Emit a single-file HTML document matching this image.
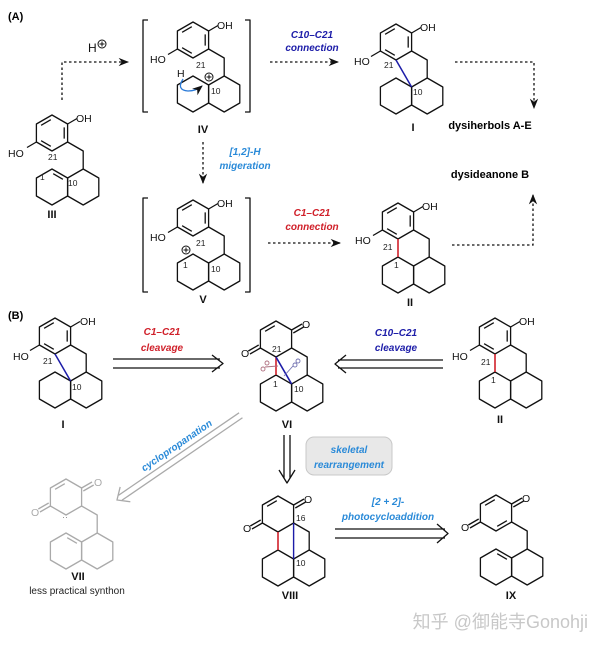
<!DOCTYPE html>
<html><head><meta charset="utf-8"><style>
html,body{margin:0;padding:0;background:#fff}
svg{display:block}
text{font-family:"Liberation Sans","Noto Sans CJK SC",sans-serif}
.b{stroke:#111;stroke-width:1.3;fill:none;stroke-linejoin:round}
.n{font-size:8.5px;fill:#222}
.t{font-size:10.5px;fill:#111}
.lab{font-size:11px;font-weight:bold;fill:#111}
.bl{fill:#1c1ca8;font-weight:bold;font-style:italic;font-size:10px}
.rd{fill:#d0202a;font-weight:bold;font-style:italic;font-size:10px}
.lb{fill:#2a8ad8;font-weight:bold;font-style:italic;font-size:10px}
.d{stroke:#111;stroke-width:1.3;fill:none;stroke-dasharray:2.5,2.5}
</style></head><body>
<svg width="600" height="648" viewBox="0 0 600 648" xmlns="http://www.w3.org/2000/svg">
<defs>
 <g id="hex"><polygon points="0,-18 15.6,-9 15.6,9 0,18 -15.6,9 -15.6,-9"/></g>
 <g id="ar"><use href="#hex"/><path d="M-10.9,-7.7L-1.2,-13.3M12.2,-5.6V5.6M-1.2,13.3L-10.9,7.7"/></g>
 <g id="dec"><use href="#hex" x="0" y="54"/><use href="#hex" x="31.2" y="54"/></g>
 <g id="ch"><path d="M15.6,9L31.2,18V36"/></g>
 <g id="ohr"><path d="M15.6,-9L25,-14.5"/></g>
 <g id="hol"><path d="M-15.6,9L-25,14.5"/></g>
 <g id="dbl"><path d="M1.2,40.7L10.9,46.3"/></g>
 <g id="qu"><use href="#hex"/><path d="M-10.9,-7.7L-1.2,-13.3M15.6,-9L26,-15M17.3,-6L27.7,-12M-15.6,9L-26,15M-17.3,6L-27.7,12"/></g>
 <marker id="ah" viewBox="0 0 10 10" refX="9" refY="5" markerWidth="8" markerHeight="8" orient="auto"><path d="M0,1L10,5L0,9L3,5z" fill="#111"/></marker>
</defs>

<text x="8" y="20" style="font-size:11px;font-weight:bold">(A)</text>
<text x="8" y="319" style="font-size:11px;font-weight:bold">(B)</text>

<!-- III -->
<g class="b" transform="translate(52,133)"><use href="#ar"/><use href="#dec"/><use href="#ch"/><use href="#ohr"/><use href="#hol"/><use href="#dbl"/></g>
<text class="t" x="76" y="122">OH</text><text class="t" x="8" y="157">HO</text>
<text class="n" x="48" y="160">21</text><text class="n" x="40" y="180">1</text><text class="n" x="68" y="186">10</text>
<text class="lab" x="52" y="218" text-anchor="middle">III</text>

<!-- H+ arrow -->
<path class="d" d="M62,100V62H128" marker-end="url(#ah)"/>
<text class="t" x="88" y="52" style="font-size:12px">H</text>
<circle cx="102" cy="44" r="4" fill="none" stroke="#111"/><path d="M99.5,44h5M102,41.5v5" stroke="#111"/>

<!-- IV -->
<path class="b" d="M148,20H143V112H148M245,20H250V112H245"/>
<g class="b" transform="translate(193,40)"><use href="#ar"/><use href="#dec"/><use href="#ch"/><use href="#ohr"/><use href="#hol"/></g>
<text class="t" x="217" y="29">OH</text><text class="t" x="150" y="63">HO</text>
<text class="n" x="196" y="68">21</text><text class="t" x="177" y="77">H</text>
<circle cx="209" cy="77" r="4" fill="none" stroke="#111"/><path d="M206.5,77h5M209,74.5v5" stroke="#111"/>
<text class="n" x="211" y="94">10</text>
<path d="M183,79Q176,90 188,91Q196,91 202,86" stroke="#2a7ad8" stroke-width="1.3" fill="none" marker-end="url(#ah)"/>
<text class="lab" x="203" y="133" text-anchor="middle">IV</text>

<!-- C10-C21 connection -->
<text class="bl" x="312" y="38" text-anchor="middle">C10–C21</text>
<text class="bl" x="312" y="51" text-anchor="middle">connection</text>
<path class="d" d="M270,62H338" marker-end="url(#ah)"/>

<!-- I top -->
<g class="b" transform="translate(396,42)"><use href="#ar"/><use href="#dec"/><use href="#ch"/><use href="#ohr"/><use href="#hol"/></g>
<path d="M396,60L411.6,87" stroke="#1c1ca8" stroke-width="1.5"/>
<text class="t" x="420" y="31">OH</text><text class="t" x="354" y="65">HO</text>
<text class="n" x="384" y="68">21</text><text class="n" x="413" y="95">10</text>
<text class="lab" x="413" y="131" text-anchor="middle">I</text>
<path class="d" d="M455,62H534V108" marker-end="url(#ah)"/>
<text x="490" y="129" text-anchor="middle" style="font-size:11px;font-weight:bold">dysiherbols A-E</text>
<text x="490" y="178" text-anchor="middle" style="font-size:11px;font-weight:bold">dysideanone B</text>

<!-- migration -->
<path class="d" d="M203,142V183" marker-end="url(#ah)"/>
<text class="lb" x="245" y="155" text-anchor="middle">[1,2]-H</text>
<text class="lb" x="245" y="169" text-anchor="middle">migeration</text>

<!-- V -->
<path class="b" d="M148,198H143V292H148M245,198H250V292H245"/>
<g class="b" transform="translate(193,218)"><use href="#ar"/><use href="#dec"/><use href="#ch"/><use href="#ohr"/><use href="#hol"/></g>
<text class="t" x="217" y="207">OH</text><text class="t" x="150" y="241">HO</text>
<text class="n" x="196" y="246">21</text>
<circle cx="186" cy="250" r="4" fill="none" stroke="#111"/><path d="M183.5,250h5M186,247.5v5" stroke="#111"/>
<text class="n" x="183" y="268">1</text><text class="n" x="211" y="272">10</text>
<text class="lab" x="203" y="303" text-anchor="middle">V</text>

<text class="rd" x="312" y="216" text-anchor="middle">C1–C21</text>
<text class="rd" x="312" y="230" text-anchor="middle">connection</text>
<path class="d" d="M268,243H340" marker-end="url(#ah)"/>

<!-- II top -->
<g class="b" transform="translate(398,221)"><use href="#ar"/><use href="#dec"/><use href="#ch"/><use href="#ohr"/><use href="#hol"/></g>
<path d="M398,239V257" stroke="#d0202a" stroke-width="1.6"/>
<text class="t" x="422" y="210">OH</text><text class="t" x="355" y="244">HO</text>
<text class="n" x="383" y="250">21</text><text class="n" x="394" y="268">1</text>
<text class="lab" x="410" y="306" text-anchor="middle">II</text>
<path class="d" d="M452,245H533V195" marker-end="url(#ah)"/>

<!-- (B) I -->
<g class="b" transform="translate(55,336)"><use href="#ar"/><use href="#dec"/><use href="#ch"/><use href="#ohr"/><use href="#hol"/></g>
<path d="M55,354L70.6,381" stroke="#1c1ca8" stroke-width="1.5"/>
<text class="t" x="80" y="325">OH</text><text class="t" x="13" y="360">HO</text>
<text class="n" x="43" y="364">21</text><text class="n" x="72" y="390">10</text>
<text class="lab" x="63" y="428" text-anchor="middle">I</text>

<text class="rd" x="162" y="335" text-anchor="middle">C1–C21</text>
<text class="rd" x="162" y="351" text-anchor="middle">cleavage</text>
<path class="b" d="M113,359H220M113,368H220M212,355L223,363.5L212,372"/>

<!-- VI -->
<g class="b" transform="translate(276,339)"><use href="#qu"/><use href="#dec"/><use href="#ch"/></g>
<path d="M276,357V375" stroke="#d0202a" stroke-width="1.6"/>
<path d="M276,357L291.6,384" stroke="#1c1ca8" stroke-width="1.6"/>
<text class="t" x="302" y="328">O</text><text class="t" x="241" y="357">O</text>
<text class="n" x="272" y="352">21</text><text class="n" x="273" y="387">1</text><text class="n" x="294" y="392">10</text>
<g stroke="#b07080" stroke-width="0.9" fill="none"><circle cx="263" cy="369" r="2"/><circle cx="267" cy="363" r="2"/><path d="M265,367L278,366"/></g>
<g stroke="#7070b0" stroke-width="0.9" fill="none"><circle cx="295" cy="365" r="2"/><circle cx="298" cy="361" r="2"/><path d="M293,366L284,376"/></g>
<text class="lab" x="287" y="428" text-anchor="middle">VI</text>

<text class="bl" x="396" y="336" text-anchor="middle">C10–C21</text>
<text class="bl" x="396" y="351" text-anchor="middle">cleavage</text>
<path class="b" d="M443,360H338M443,368H338M346,355L335,364L346,373"/>

<!-- II (B) -->
<g class="b" transform="translate(495,336)"><use href="#ar"/><use href="#dec"/><use href="#ch"/><use href="#ohr"/><use href="#hol"/></g>
<path d="M495,354V372" stroke="#d0202a" stroke-width="1.6"/>
<text class="t" x="519" y="325">OH</text><text class="t" x="452" y="360">HO</text>
<text class="n" x="481" y="365">21</text><text class="n" x="491" y="383">1</text>
<text class="lab" x="500" y="423" text-anchor="middle">II</text>

<!-- cyclopropanation -->
<g transform="translate(117,500) rotate(-34.4)">
 <path d="M4,-3H150M4,3H150M10,-9L0,0L10,9" stroke="#aaa" stroke-width="1.3" fill="none"/>
 <text class="lb" x="80" y="-8" text-anchor="middle">cyclopropanation</text>
</g>

<!-- VI -> VIII -->
<path class="b" d="M284,435V478M290,435V478M279,470L287,483L295,470"/>
<rect x="306" y="437" width="86" height="38" rx="8" fill="#e8e8e8" stroke="#c8c8c8"/>
<text class="lb" x="349" y="453" text-anchor="middle">skeletal</text>
<text class="lb" x="349" y="468" text-anchor="middle">rearrangement</text>

<!-- VII -->
<g class="b" style="stroke:#aaa" transform="translate(66,497)"><use href="#hex"/><path d="M-10.9,-7.7L-1.2,-13.3M15.6,-9L26,-15M17.3,-6L27.7,-12M-15.6,9L-26,15M-17.3,6L-27.7,12"/><use href="#dec"/><use href="#ch"/><use href="#dbl"/></g>
<text x="94" y="486" style="font-size:10.5px;fill:#aaa">O</text><text x="31" y="516" style="font-size:10.5px;fill:#aaa">O</text>
<text x="62" y="520" style="font-size:9px;fill:#888">··</text>
<text class="lab" x="78" y="580" text-anchor="middle">VII</text>
<text x="77" y="594" text-anchor="middle" style="font-size:10px;fill:#222">less practical synthon</text>

<!-- VIII -->
<g class="b" transform="translate(278,514)"><use href="#qu"/><use href="#dec"/><use href="#ch"/></g>
<path d="M278,532V550" stroke="#d0202a" stroke-width="1.6"/>
<path d="M293.6,523V559" stroke="#1c1ca8" stroke-width="1.4"/>
<text class="t" x="304" y="503">O</text><text class="t" x="243" y="532">O</text>
<text class="n" x="296" y="521">16</text><text class="n" x="296" y="566">10</text>
<text class="lab" x="290" y="599" text-anchor="middle">VIII</text>

<text class="lb" x="388" y="505" text-anchor="middle">[2 + 2]-</text>
<text class="lb" x="388" y="520" text-anchor="middle">photocycloaddition</text>
<path class="b" d="M335,529H445M335,538H445M437,524L448,533.5L437,543"/>

<!-- IX -->
<g class="b" transform="translate(496,513)"><use href="#hex"/><path d="M-10.9,-7.7L-1.2,-13.3M10.9,7.7L1.2,13.3M15.6,-9L26,-15M17.3,-6L27.7,-12M-15.6,9L-26,15M-17.3,6L-27.7,12"/><use href="#dec"/><use href="#ch"/><use href="#dbl"/></g>
<text class="t" x="522" y="502">O</text><text class="t" x="461" y="531">O</text>
<text class="lab" x="511" y="599" text-anchor="middle">IX</text>

<text x="588" y="628" text-anchor="end" style="font-size:18px;fill:#c8c8c8">知乎 @御能寺Gonohji</text>
</svg>
</body></html>
